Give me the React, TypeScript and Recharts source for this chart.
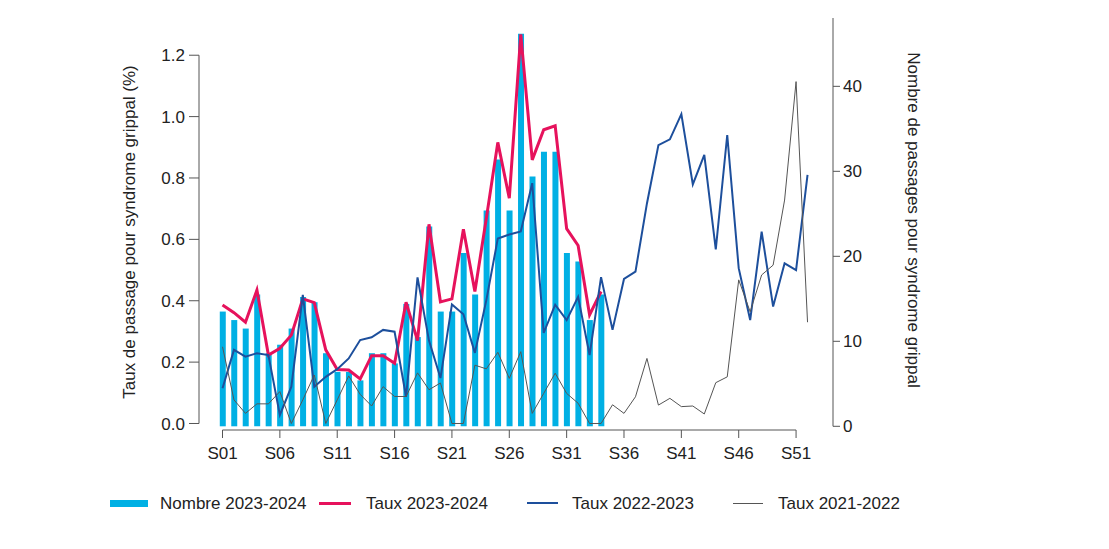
import React from "react";
import {
  ComposedChart,
  Bar,
  Line,
  XAxis,
  YAxis,
  ReferenceLine,
} from "recharts";

// semaines S01..S52
const weeks = Array.from({ length: 52 }, (_, i) => i + 1);
const weekTicks = [1, 6, 11, 16, 21, 26, 31, 36, 41, 46, 51];
const leftTicks = [0, 0.2, 0.4, 0.6, 0.8, 1.0, 1.2];
const rightTicks = [0, 10, 20, 30, 40];

// Nombre de passages 2023-2024 (axe droit)
const nombre2324 = [
  13.5, 12.5, 11.5, 15.5, 8.6, 9.6, 11.5, 15.2, 14.6, 8.6,
  6.4, 6.4, 5.4, 8.6, 8.6, 7.4, 14.4, 10.5, 23.5, 13.5,
  13.5, 20.4, 15.5, 25.4, 31.4, 25.4, 46.2, 29.4, 32.3, 32.3,
  20.4, 19.4, 12.5, 15.5,
];

// Taux (%) axe gauche
const taux2324 = [
  0.386, 0.361, 0.33, 0.435, 0.223, 0.245, 0.288, 0.406, 0.394, 0.24,
  0.176, 0.174, 0.145, 0.221, 0.221, 0.196, 0.395, 0.27, 0.649, 0.396,
  0.406, 0.633, 0.43, 0.669, 0.916, 0.734, 1.268, 0.859, 0.957, 0.97,
  0.635, 0.58, 0.354, 0.43,
];

const taux2223 = [
  0.115, 0.24, 0.218, 0.229, 0.223, 0.028, 0.12, 0.419, 0.12, 0.152,
  0.177, 0.212, 0.272, 0.281, 0.305, 0.299, 0.087, 0.476, 0.27, 0.148,
  0.388, 0.356, 0.23, 0.402, 0.603, 0.616, 0.626, 0.783, 0.295, 0.387,
  0.337, 0.413, 0.223, 0.477, 0.305, 0.471, 0.495, 0.717, 0.907, 0.926,
  1.008, 0.779, 0.875, 0.567, 0.94, 0.506, 0.337, 0.625, 0.381, 0.522,
  0.5, 0.81,
];

const taux2122 = [
  0.25, 0.077, 0.033, 0.064, 0.064, 0.104, 0.0, 0.077, 0.158, 0.0,
  0.077, 0.155, 0.095, 0.057, 0.12, 0.088, 0.088, 0.165, 0.11, 0.132,
  0.0, 0.0, 0.19, 0.178, 0.232, 0.147, 0.234, 0.033, 0.098, 0.164,
  0.098, 0.066, 0.0, 0.0, 0.061, 0.033, 0.087, 0.212, 0.06, 0.082,
  0.055, 0.057, 0.031, 0.133, 0.152, 0.468, 0.364, 0.484, 0.516, 0.728,
  1.114, 0.33,
];

const data = weeks.map((w, i) => ({
  week: w,
  nombre: nombre2324[i] ?? null,
  t2324: taux2324[i] ?? null,
  t2223: taux2223[i] ?? null,
  t2122: taux2122[i] ?? null,
}));

const CYAN = "#00b0e4";
const PINK = "#e6125c";
const BLUE = "#1d4f9c";
const GREY = "#555555";
const AXIS = "#555555";
const TEXT = "#222222";
const FONT = "'Liberation Sans', Arial, Helvetica, sans-serif";

const xMin = -1.05;
const xMax = 54.22;
const leftMin = -0.0212;
const leftMax = 1.3213;
const rightMin = -0.435;
const rightMax = 48.04;

const pad = (n: number) => (n < 10 ? "S0" + n : "S" + n);

const legendItems = [
  { label: "Nombre 2023-2024", color: CYAN, x: 102, w: 38, h: 7, tx: 152 },
  { label: "Taux 2023-2024", color: PINK, x: 311, w: 32, h: 3, tx: 358 },
  { label: "Taux 2022-2023", color: BLUE, x: 519, w: 31, h: 2, tx: 564 },
  { label: "Taux 2021-2022", color: GREY, x: 725, w: 30, h: 1, tx: 770 },
];

export default function App() {
  const tickStyle = { fill: TEXT, fontSize: 17, fontFamily: FONT };
  return (
    <div style={{ position: "relative", width: 1093, height: 530, fontFamily: FONT }}>
      <ComposedChart
        width={1093}
        height={530}
        data={data}
        margin={{ top: 10, right: 218, bottom: 68, left: 131 }}
      >
        <XAxis
          dataKey="week"
          type="number"
          domain={[xMin, xMax]}
          allowDataOverflow
          ticks={weekTicks}
          tickFormatter={pad}
          axisLine={false}
          tickLine={{ stroke: AXIS }}
          tickSize={8}
          tickMargin={9}
          height={40}
          tick={tickStyle}
          interval={0}
        />
        <YAxis
          yAxisId="left"
          domain={[leftMin, leftMax]}
          allowDataOverflow
          ticks={leftTicks}
          tickFormatter={(v: number) => v.toFixed(1)}
          axisLine={false}
          tickLine={{ stroke: AXIS }}
          tickSize={10}
          tickMargin={4}
          width={60}
          tick={tickStyle}
          interval={0}
          label={() => (
            <text
              x={121}
              y={224}
              transform="rotate(-90 121 224)"
              textAnchor="middle"
              dy="0.35em"
              fill={TEXT}
              fontSize={17}
              fontFamily={FONT}
            >
              Taux de passage pour syndrome grippal (%)
            </text>
          )}
        />
        <YAxis
          yAxisId="right"
          orientation="right"
          domain={[rightMin, rightMax]}
          allowDataOverflow
          ticks={rightTicks}
          axisLine={false}
          tickLine={{ stroke: AXIS }}
          tickSize={7}
          tickMargin={3}
          width={50}
          tick={tickStyle}
          interval={0}
          label={() => (
            <text
              x={906}
              y={212}
              transform="rotate(90 906 212)"
              textAnchor="middle"
              dy="0.35em"
              fill={TEXT}
              fontSize={17}
              fontFamily={FONT}
            >
              Nombre de passages pour syndrome grippal
            </text>
          )}
        />
        <Bar
          yAxisId="right"
          dataKey="nombre"
          fill={CYAN}
          barSize={6}
          isAnimationActive={false}
        />
        <Line
          yAxisId="left"
          type="linear"
          dataKey="t2324"
          stroke={PINK}
          strokeWidth={3}
          dot={false}
          activeDot={false}
          isAnimationActive={false}
        />
        <Line
          yAxisId="left"
          type="linear"
          dataKey="t2223"
          stroke={BLUE}
          strokeWidth={2}
          dot={false}
          activeDot={false}
          isAnimationActive={false}
        />
        <Line
          yAxisId="left"
          type="linear"
          dataKey="t2122"
          stroke={GREY}
          strokeWidth={1}
          dot={false}
          activeDot={false}
          isAnimationActive={false}
        />
        <ReferenceLine
          yAxisId="left"
          segment={[{ x: 1, y: leftMin }, { x: 51, y: leftMin }]}
          stroke={AXIS}
          strokeWidth={1}
          ifOverflow="visible"
        />
        <ReferenceLine
          yAxisId="left"
          segment={[{ x: xMin, y: 0 }, { x: xMin, y: 1.2 }]}
          stroke={AXIS}
          strokeWidth={1}
          ifOverflow="visible"
        />
        <ReferenceLine
          yAxisId="right"
          segment={[{ x: xMax, y: 0 }, { x: xMax, y: rightMax }]}
          stroke={AXIS}
          strokeWidth={1}
          ifOverflow="visible"
        />
      </ComposedChart>
      {legendItems.map((it) => (
        <React.Fragment key={it.label}>
          <div
            style={{
              position: "absolute",
              left: it.x,
              top: 495 - it.h / 2,
              width: it.w,
              height: it.h,
              background: it.color,
            }}
          />
          <div
            style={{
              position: "absolute",
              left: it.tx,
              top: 495,
              transform: "translateY(-50%)",
              fontSize: 17,
              lineHeight: 1,
              color: TEXT,
              whiteSpace: "nowrap",
            }}
          >
            {it.label}
          </div>
        </React.Fragment>
      ))}
    </div>
  );
}
